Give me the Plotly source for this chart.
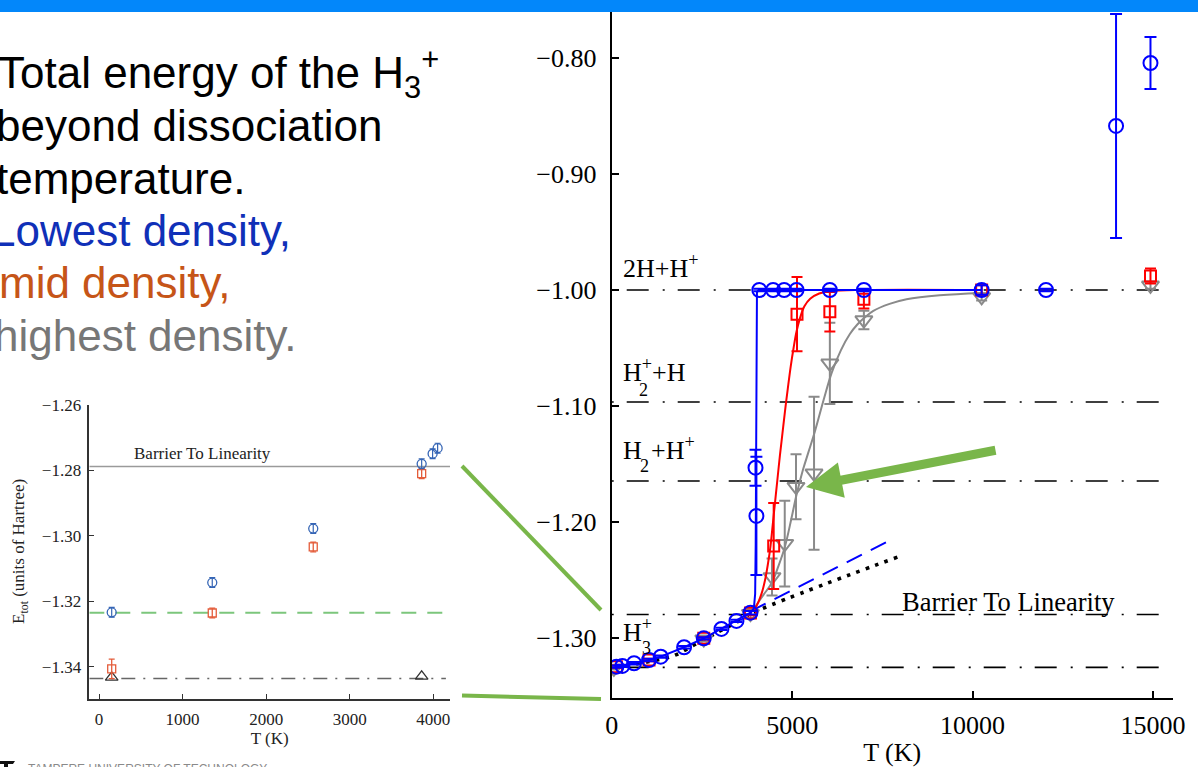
import plotly.graph_objects as go

W, H = 1198, 767


def fx(px):
    return px / W


def fy(py):
    return 1 - py / H


# ---------------- main panel: total energy vs temperature ----------------
x_ticks = [0, 5000, 10000, 15000]
y_ticks = [-1.30, -1.20, -1.10, -1.00, -0.90, -0.80]

# dissociation / barrier levels (Hartree)
level_names = ["2H+H+", "H2+ +H", "H2+H+", "Barrier To Linearity", "H3+"]
level_E = [-1.0000, -1.0966, -1.1647, -1.2797, -1.3253]
level_T = [0, 15543]

# lowest density (blue circles)
blue_T = [130, 296, 620, 1035, 1359, 2006, 2551, 3041, 3457, 3845, 3985, 4010,
          4090, 4473, 4778, 5122, 6045, 6988, 10252, 12035, 13976, 14930]
blue_E = [-1.3247, -1.3241, -1.3218, -1.3190, -1.3161, -1.3080, -1.3003, -1.2922,
          -1.2853, -1.2782, -1.1532, -1.1948, -1.0000, -1.0000, -1.0000, -1.0000,
          -1.0000, -1.0000, -1.0000, -1.0000, -0.8586, -0.8043]
blue_err = [0.001, 0.001, 0.001, 0.001, 0.001, 0.001, 0.001, 0.001, 0.001, 0.0015,
            0.0155, 0.051, 0.001, 0.001, 0.001, 0.001, 0.001, 0.001, 0.004, 0.001,
            0.0965, 0.0224]

# mid density (red squares)
red_T = [130, 1035, 2551, 3845, 4489, 5135, 6045, 6988, 10252, 14930]
red_E = [-1.3247, -1.3190, -1.3003, -1.2785, -1.2207, -1.0209, -1.0187, -1.0080,
         -1.0000, -0.9880]
red_err = [0.001, 0.001, 0.001, 0.002, 0.037, 0.032, 0.017, 0.008, 0.004, 0.0065]

# highest density (grey triangles)
grey_T = [60, 2551, 3845, 4443, 4795, 5107, 5607, 6045, 6988, 10252, 14930]
grey_E = [-1.3262, -1.3010, -1.2790, -1.2474, -1.2187, -1.1696, -1.1580, -1.0632,
          -1.0259, -1.0060, -0.9960]
grey_err = [0.001, 0.002, 0.004, 0.016, 0.037, 0.028, 0.066, 0.035, 0.008, 0.003,
            0.003]

# fitted curves
blue_fit_T = [130, 296, 620, 1035, 1359, 2006, 2551, 3041, 3457, 3845, 3940, 3975,
              3990, 4000, 4008, 4025, 4070, 10252]
blue_fit_E = [-1.3247, -1.3241, -1.3218, -1.3190, -1.3161, -1.3080, -1.3003, -1.2922,
              -1.2853, -1.2782, -1.2745, -1.2620, -1.2200, -1.1000, -1.0200, -1.0020,
              -1.0000, -1.0000]

red_fit_T = [3845, 4000, 4150, 4250, 4330, 4400, 4470, 4530, 4590, 4660, 4730, 4800,
             4880, 4960, 5040, 5120, 5220, 5340, 5500, 5750, 6050, 7000, 10252]
red_fit_E = [-1.2782, -1.2730, -1.2620, -1.2500, -1.2360, -1.2210, -1.2000, -1.1820,
             -1.1640, -1.1430, -1.1240, -1.1050, -1.0850, -1.0660, -1.0500, -1.0360,
             -1.0240, -1.0140, -1.0075, -1.0030, -1.0010, -1.0000, -1.0000]

grey_fit_T = [3845, 4000, 4200, 4430, 4620, 4800, 4980, 5120, 5300, 5450, 5630, 5870,
              6100, 6350, 6600, 6800, 7000, 7250, 7700, 8170, 9090, 10252]
grey_fit_E = [-1.2782, -1.2720, -1.2630, -1.2528, -1.2380, -1.2213, -1.1970, -1.1767,
              -1.1550, -1.1400, -1.1220, -1.0950, -1.0710, -1.0520, -1.0380, -1.0300,
              -1.0240, -1.0180, -1.0120, -1.0080, -1.0045, -1.0025]

harm_T = [3845, 7730]
harm_E = [-1.2770, -1.2155]

dot_T = [130, 1000, 1700, 2400, 3000, 3500, 3900, 7970]
dot_E = [-1.3255, -1.3205, -1.3155, -1.3040, -1.2940, -1.2858, -1.2785, -1.2297]

# ---------------- inset: low-temperature region ----------------
in_x_ticks = [0, 1000, 2000, 3000, 4000]
in_y_ticks = [-1.34, -1.32, -1.30, -1.28, -1.26]
in_span_T = [-116, 4199]
in_barrier_E = -1.2788
in_zpe_E = -1.3235
in_min_E = -1.3436

in_blue_T = [152, 1355, 2563, 3860, 3991, 4051]
in_blue_E = [-1.3234, -1.3143, -1.2978, -1.2780, -1.2749, -1.2732]
in_red_T = [152, 1355, 2563, 3860]
in_red_E = [-1.3407, -1.3236, -1.3034, -1.2810]
in_red_err = [0.003, 0.0015, 0.0015, 0.0015]
in_tri_T = [152, 3860]
in_tri_E = [-1.3433, -1.3430]

BLUE = "#0000FF"
RED = "#FF0000"
GREY = "#8A8A8A"
GREEN = "#79B64A"
SERIF = "Liberation Serif"
SANS = "Liberation Sans"

fig = go.Figure()

# main panel reference levels
for e in level_E:
    fig.add_trace(go.Scatter(
        x=level_T, y=[e, e], mode="lines", xaxis="x", yaxis="y",
        line=dict(color="black", width=1.6, dash="2px,13px,22px,14px"),
        hoverinfo="skip"))

fig.add_trace(go.Scatter(
    x=dot_T, y=dot_E, mode="lines", line=dict(color="black", width=3.6, dash="3.6px,6.4px"),
    line_shape="spline", hoverinfo="skip"))
fig.add_trace(go.Scatter(
    x=harm_T, y=harm_E, mode="lines", line=dict(color=BLUE, width=2, dash="17px,10px"),
    hoverinfo="skip"))

# grey (highest density)
fig.add_trace(go.Scatter(
    x=grey_fit_T, y=grey_fit_E, mode="lines", line=dict(color=GREY, width=2),
    line_shape="spline", hoverinfo="skip"))
fig.add_trace(go.Scatter(
    x=grey_T, y=grey_E, mode="markers",
    marker=dict(symbol="triangle-down-open", size=15, color=GREY, line=dict(width=2, color=GREY)),
    error_y=dict(type="data", array=grey_err, width=5.5, thickness=2, color=GREY)))

# red (mid density)
fig.add_trace(go.Scatter(
    x=red_fit_T, y=red_fit_E, mode="lines", line=dict(color=RED, width=2),
    line_shape="spline", hoverinfo="skip"))
fig.add_trace(go.Scatter(
    x=red_T, y=red_E, mode="markers",
    marker=dict(symbol="square-open", size=11, color=RED, line=dict(width=2, color=RED)),
    error_y=dict(type="data", array=red_err, width=5.5, thickness=2, color=RED)))

# blue (lowest density)
fig.add_trace(go.Scatter(
    x=blue_fit_T, y=blue_fit_E, mode="lines", line=dict(color=BLUE, width=2),
    hoverinfo="skip"))
fig.add_trace(go.Scatter(
    x=blue_T, y=blue_E, mode="markers",
    marker=dict(symbol="circle-open", size=14, color=BLUE, line=dict(width=2, color=BLUE)),
    error_y=dict(type="data", array=blue_err, width=6, thickness=2, color=BLUE)))

# inset traces
fig.add_trace(go.Scatter(
    x=in_span_T, y=[in_barrier_E] * 2, mode="lines", xaxis="x2", yaxis="y2",
    line=dict(color="#9A9A9A", width=1.5), hoverinfo="skip"))
fig.add_trace(go.Scatter(
    x=in_span_T, y=[in_zpe_E] * 2, mode="lines", xaxis="x2", yaxis="y2",
    line=dict(color="#7CC67C", width=2, dash="15px,11px"), hoverinfo="skip"))
fig.add_trace(go.Scatter(
    x=[in_span_T[0], 4150], y=[in_min_E] * 2, mode="lines", xaxis="x2", yaxis="y2",
    line=dict(color="#666666", width=1.5, dash="14px,8px,2px,8px"), hoverinfo="skip"))
fig.add_trace(go.Scatter(
    x=in_tri_T, y=in_tri_E, mode="markers", xaxis="x2", yaxis="y2",
    marker=dict(symbol="triangle-up-open", size=11, color="#333333",
                line=dict(width=1.3, color="#333333"))))
fig.add_trace(go.Scatter(
    x=in_red_T, y=in_red_E, mode="markers", xaxis="x2", yaxis="y2",
    marker=dict(symbol="square-open", size=8, color="#E45C3A", line=dict(width=1.3, color="#E45C3A")),
    error_y=dict(type="data", array=in_red_err, width=3, thickness=1.3, color="#E45C3A")))
fig.add_trace(go.Scatter(
    x=in_blue_T, y=in_blue_E, mode="markers", xaxis="x2", yaxis="y2",
    marker=dict(symbol="circle-open", size=9, color="#3565B5", line=dict(width=1.3, color="#3565B5")),
    error_y=dict(type="data", array=[0.0015] * len(in_blue_T), width=3, thickness=1.2,
                 color="#3565B5")))

main_font = dict(family=SERIF, size=26, color="black")
in_font = dict(family=SERIF, size=17, color="#222222")

fig.update_layout(
    width=W, height=H, margin=dict(l=0, r=0, t=0, b=0, autoexpand=False),
    paper_bgcolor="white", plot_bgcolor="rgba(0,0,0,0)", showlegend=False,
    xaxis=dict(domain=[fx(611.7), fx(1172.6)], range=[0, 15543], anchor="y", automargin=False,
               showgrid=False, zeroline=False, showline=True, linecolor="black", linewidth=2,
               ticks="inside", ticklen=7, tickwidth=1.5, tickcolor="black",
               tickvals=x_ticks, tickformat="d", tickfont=main_font, ticklabelstandoff=3,
               title=dict(text="T (K)", font=main_font, standoff=11)),
    yaxis=dict(domain=[fy(697.7), fy(11)], range=[-1.35147, -0.7595], anchor="x", automargin=False,
               showgrid=False, zeroline=False, showline=True, linecolor="black", linewidth=2,
               ticks="inside", ticklen=7, tickwidth=1.5, tickcolor="black",
               tickvals=y_ticks, tickformat=".2f", tickfont=main_font, ticklabelstandoff=8),
    xaxis2=dict(domain=[fx(89.3), fx(450)], range=in_span_T, anchor="y2", automargin=False,
                showgrid=False, zeroline=False, showline=True, linecolor="#333333", linewidth=1.5,
                ticks="inside", ticklen=5, tickwidth=1.2, tickcolor="#333333",
                tickvals=in_x_ticks, tickformat="d", tickfont=in_font, ticklabelstandoff=4,
                title=dict(text="T (K)", font=in_font, standoff=4)),
    yaxis2=dict(domain=[fy(699), fy(405)], range=[-1.3499, -1.26], anchor="x2", automargin=False,
                showgrid=False, zeroline=False, showline=True, linecolor="#333333", linewidth=1.5,
                ticks="inside", ticklen=5, tickwidth=1.2, tickcolor="#333333",
                tickvals=in_y_ticks, tickformat=".2f", tickfont=in_font, ticklabelstandoff=3),
)

shapes = [
    # header band
    dict(type="rect", xref="paper", yref="paper", x0=0, x1=1, y0=fy(12), y1=1,
         fillcolor="#0387FA", line=dict(width=0), layer="above"),
    # zoom connectors between inset and main panel
    dict(type="line", xref="paper", yref="paper", x0=fx(462), y0=fy(466), x1=fx(601), y1=fy(610),
         line=dict(color=GREEN, width=4)),
    dict(type="line", xref="paper", yref="paper", x0=fx(462), y0=fy(695.5), x1=fx(601), y1=fy(699),
         line=dict(color=GREEN, width=4)),
    # logo mark
    dict(type="path", xref="paper", yref="paper",
         path=f"M {fx(0)},{fy(761)} L {fx(15)},{fy(761)} L {fx(13)},{fy(764)} L {fx(8)},{fy(764)} "
              f"L {fx(8)},{fy(767)} L {fx(4)},{fy(767)} L {fx(4)},{fy(764)} L {fx(0)},{fy(764)} Z",
         fillcolor="#111111", line=dict(width=0)),
]

ann = []


def txt(text, x, y, size, color="black", family=SERIF, xanchor="left", yanchor="bottom", **kw):
    ann.append(dict(text=text, x=fx(x), y=fy(y), xref="paper", yref="paper",
                    xanchor=xanchor, yanchor=yanchor, showarrow=False,
                    font=dict(family=family, size=size, color=color), **kw))


# slide text
body = [
    ("Total energy of the H<sub>3</sub><sup>+</sup>", "#000000", -4, 89),
    ("beyond dissociation", "#000000", -6, 141),
    ("temperature.", "#000000", -6, 193.5),
    ("Lowest density,", "#1030B8", -11, 246),
    ("mid density,", "#C65518", -3, 297.5),
    ("highest density.", "#777777", -8, 351),
]
for t, c, x0, base in body:
    txt(t, x0, base - 0.3465 * 44, 44, color=c, family=SANS, yanchor="middle")

# level labels in the main panel
txt("2H+H<sup>+</sup>", 620.7, 278 + 6.6, 26)
txt("H<sup>+</sup>+H", 621, 382 + 6.6, 26)
txt("2", 637, 396.7 + 4.9, 18)
txt("H", 621, 460 + 6.6, 26)
txt("2", 638, 473 + 4.9, 18)
txt("+H<sup>+</sup>", 649, 460 + 6.6, 26)
txt("H<sup>+</sup>", 621, 642 + 6.6, 26)
txt("3", 639.5, 655 + 4.9, 18)
txt("Barrier To Linearity", 900, 612 + 6.6, 26.5)

# inset labels
txt("Barrier To Linearity", 131.7, 460 + 4.7, 17, color="#222222")
txt("E<sub>tot</sub> (units of Hartree)", 20, 552, 17, color="#222222",
    xanchor="center", yanchor="middle", textangle=-90)

# footer
txt("TAMPERE UNIVERSITY OF TECHNOLOGY", 26, 759.6, 12, color="#8A8A8A", family=SANS, yanchor="top")

# highlight arrow
ann.append(dict(text="", x=fx(806), y=fy(487), xref="paper", yref="paper",
                ax=191, ay=-37, showarrow=True, arrowhead=2, arrowsize=0.8,
                arrowwidth=9, arrowcolor=GREEN))

fig.update_layout(shapes=shapes, annotations=ann)
fig.write_html("out.html")
